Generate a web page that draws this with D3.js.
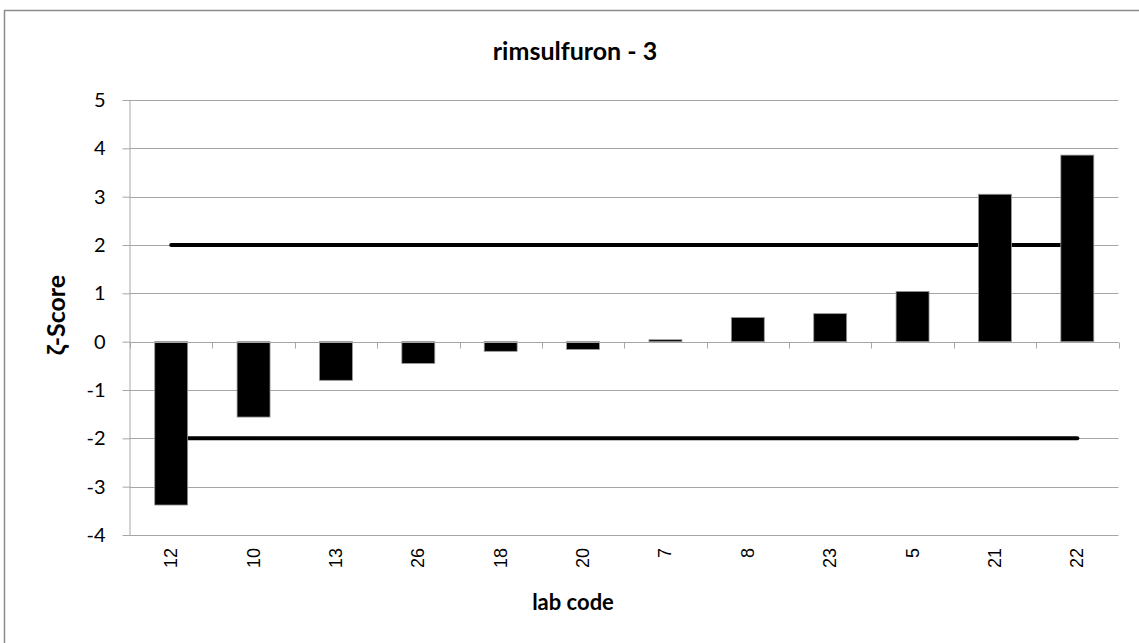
<!DOCTYPE html>
<html><head><meta charset="utf-8">
<script src="https://cdn.jsdelivr.net/npm/d3@7"></script>
<style>body{margin:0;background:#fff}svg{display:block}</style>
</head><body>
<script>
const labs = ["12","10","13","26","18","20","7","8","23","5","21","22"];
const zScores = [-3.38,-1.56,-0.80,-0.45,-0.20,-0.16,0.04,0.50,0.58,1.04,3.05,3.86];
const upperLimit = [2,2,2,2,2,2,2,2,2,2,2,2];
const lowerLimit = [-2,-2,-2,-2,-2,-2,-2,-2,-2,-2,-2,-2];
const yTicks = [5,4,3,2,1,0,-1,-2,-3,-4];
const title = "rimsulfuron - 3";
const xTitle = "lab code";
const yTitle = "ζ-Score";

const W = 1139, H = 643;
const svg = d3.select("body").append("svg").attr("width", W).attr("height", H);
svg.append("rect").attr("x",4.5).attr("y",10.5).attr("width",W+10).attr("height",H+10)
  .attr("fill","#fff").attr("stroke","#8c8c8c").attr("stroke-width",1.5);

const x0 = 130, x1 = 1118.5, yTop = 100, yBot = 535;
const x = d3.scaleBand().domain(labs).range([x0, x1]).paddingInner(0.6).paddingOuter(0.3);
const xc = d3.scalePoint().domain(labs).range([x0, x1]).padding(0.5);
const y = d3.scaleLinear().domain([-4, 5]).range([yBot, yTop]);
const grey = "#a6a6a6";
const sans = "Lato, 'Open Sans', sans-serif";

// gridlines
svg.append("g").selectAll("line").data(yTicks).join("line")
  .attr("x1", x0).attr("x2", x1).attr("y1", d => Math.round(y(d))+0.5).attr("y2", d => Math.round(y(d))+0.5)
  .attr("stroke", grey).attr("stroke-width", 1);

// y axis
const yAxis = svg.append("g").attr("transform", `translate(${x0+0.5},0)`)
  .call(d3.axisLeft(y).tickValues(yTicks).tickSize(8).tickPadding(17).tickFormat(d => String(d)));
yAxis.attr("font-size", null).attr("font-family", null);
yAxis.select(".domain").attr("stroke", grey).attr("d", `M-0.5,${yTop}V${yBot}`);
yAxis.selectAll(".tick line").attr("stroke", grey);
yAxis.selectAll(".tick text").attr("font-family", sans).attr("font-size", 20).attr("fill","#000");

// limit lines (behind bars)
const line = d3.line().x((d,i) => xc(labs[i])).y(d => y(d));
[upperLimit, lowerLimit].forEach(arr => {
  svg.append("path").attr("d", line(arr)).attr("fill","none").attr("stroke","#000")
    .attr("stroke-width",4).attr("stroke-linecap","round");
});

// bars
svg.append("g").selectAll("rect").data(zScores).join("rect")
  .attr("x", (d,i) => x(labs[i]))
  .attr("width", x.bandwidth())
  .attr("y", d => y(Math.max(0,d)))
  .attr("height", d => Math.abs(y(d) - y(0)))
  .attr("fill", "#000").attr("stroke", "#999").attr("stroke-width", 0.8);

// x axis at zero
const xAxisG = svg.append("g").attr("transform", `translate(0,${Math.round(y(0))+0.5})`);
xAxisG.append("line").attr("x1", x0).attr("x2", x1).attr("stroke", grey);
const boundaries = d3.range(labs.length + 1).map(i => x0 + i * (x1 - x0) / labs.length);
xAxisG.selectAll(".tk").data(boundaries).join("line").attr("class","tk")
  .attr("x1", d => Math.round(d)+0.5).attr("x2", d => Math.round(d)+0.5).attr("y1", 0).attr("y2", 6)
  .attr("stroke", grey);

// x labels (rotated)
svg.append("g").selectAll("text").data(labs).join("text")
  .attr("transform", d => `translate(${xc(d)+6},548) rotate(-90)`)
  .attr("text-anchor","end")
  .attr("font-family","'Liberation Sans', Arial, sans-serif").attr("font-size", 18)
  .text(d => d);

// titles
svg.append("text").attr("x", 575).attr("y", 60).attr("text-anchor","middle")
  .attr("font-family", sans).attr("font-weight","bold").attr("font-size", 25)
  .text(title);
svg.append("text").attr("x", 573).attr("y", 610).attr("text-anchor","middle")
  .attr("font-family", sans).attr("font-weight","bold").attr("font-size", 22)
  .text(xTitle);
svg.append("text").attr("transform","translate(65,315) rotate(-90)").attr("text-anchor","middle")
  .attr("font-family", sans).attr("font-weight","bold").attr("font-size", 25)
  .text(yTitle);
</script>
</body></html>
